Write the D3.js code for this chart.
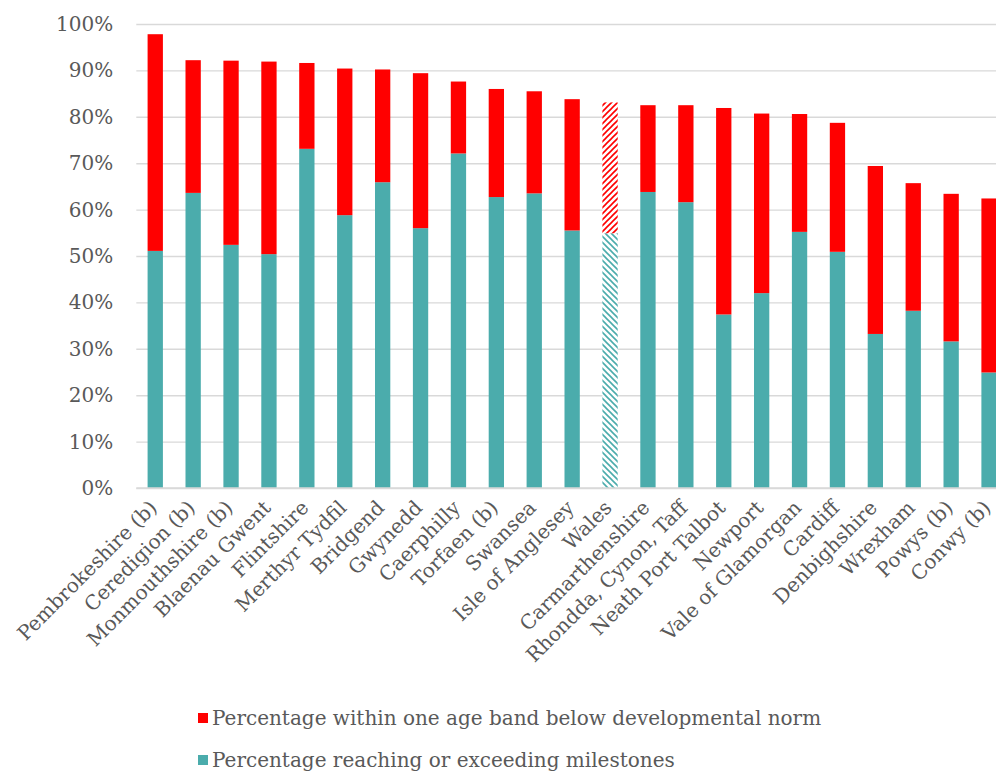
<!DOCTYPE html>
<html>
<head>
<meta charset="utf-8">
<script src="https://cdn.jsdelivr.net/npm/d3@7/dist/d3.min.js"></script>
<style>
  html, body { margin: 0; padding: 0; background: #fff; overflow: hidden; }
  svg { display: block; }
  text { font-family: "DejaVu Serif", "Liberation Serif", serif; fill: #595959; }
</style>
</head>
<body>
<svg id="chart" width="996" height="772"></svg>
<script>
// Local authorities, ordered by total share at or near the norm
const categories = [
  "Pembrokeshire (b)", "Ceredigion (b)", "Monmouthshire (b)", "Blaenau Gwent",
  "Flintshire", "Merthyr Tydfil", "Bridgend", "Gwynedd", "Caerphilly",
  "Torfaen (b)", "Swansea", "Isle of Anglesey", "Wales", "Carmarthenshire",
  "Rhondda, Cynon, Taff", "Neath Port Talbot", "Newport", "Vale of Glamorgan",
  "Cardiff", "Denbighshire", "Wrexham", "Powys (b)", "Conwy (b)"
];

// Percentage reaching or exceeding milestones
const reaching = [
  51.1, 63.6, 52.4, 50.4, 73.1, 58.8, 65.9, 56.0, 72.1, 62.7, 63.5, 55.5,
  54.9, 63.8, 61.6, 37.4, 42.0, 55.2, 50.9, 33.2, 38.2, 31.6, 24.9
];

// Percentage within one age band below developmental norm
const withinOneBand = [
  46.7, 28.6, 39.7, 41.5, 18.5, 31.6, 24.3, 33.4, 15.5, 23.3, 22.0, 28.3,
  28.2, 18.7, 20.9, 44.5, 38.7, 25.4, 27.8, 36.2, 27.5, 31.8, 37.5
];

const yTicks = [0, 10, 20, 30, 40, 50, 60, 70, 80, 90, 100];

const seriesNames = [
  "Percentage within one age band below developmental norm",
  "Percentage reaching or exceeding milestones"
];

const RED = "#ff0000";
const TEAL = "#4bacac";
const GRID = "#d9d9d9";

const svg = d3.select("#chart");

const plot = { left: 136.3, right: 1008, top: 24, bottom: 488 };

const x = d3.scaleBand()
  .domain(categories)
  .range([plot.left, plot.right])
  .paddingInner(0.596)
  .paddingOuter(0.298);

const y = d3.scaleLinear()
  .domain([0, 100])
  .range([plot.bottom, plot.top]);

// Hatch fills for the all-Wales bar
const defs = svg.append("defs");
function hatch(id, color, dir) {
  const p = defs.append("pattern")
    .attr("id", id)
    .attr("patternUnits", "userSpaceOnUse")
    .attr("width", 6).attr("height", 6);
  p.append("rect").attr("width", 6).attr("height", 6).attr("fill", "#fff");
  const d = dir > 0
    ? "M-1,1 l2,-2 M0,6 l6,-6 M5,7 l2,-2"
    : "M-1,5 l2,2 M0,0 l6,6 M5,-1 l2,2";
  p.append("path").attr("d", d)
    .attr("stroke", color).attr("stroke-width", 1.6);
}
hatch("hatchRed", RED, 1);
hatch("hatchTeal", TEAL, -1);

// Gridlines and y axis labels
const yAxis = d3.axisLeft(y)
  .tickValues(yTicks)
  .tickSize(-(plot.right - plot.left))
  .tickPadding(23)
  .tickFormat(d => d + "%");

const gy = svg.append("g")
  .attr("transform", `translate(${plot.left},0)`)
  .call(yAxis);
gy.select(".domain").remove();
gy.selectAll(".tick line").attr("stroke", GRID).attr("stroke-width", 1.4);
gy.selectAll(".tick text")
  .attr("font-size", 20)
  .attr("fill", "#595959")
  .style("font-family", '"DejaVu Serif", serif');

// Stacked bars
const rows = categories.map((c, i) => ({
  name: c, reaching: reaching[i], within: withinOneBand[i]
}));

const bars = svg.append("g");
rows.forEach(r => {
  const isWales = r.name === "Wales";
  bars.append("rect")
    .attr("x", x(r.name))
    .attr("width", x.bandwidth())
    .attr("y", y(r.reaching))
    .attr("height", y(0) - y(r.reaching))
    .attr("fill", isWales ? "url(#hatchTeal)" : TEAL);
  bars.append("rect")
    .attr("x", x(r.name))
    .attr("width", x.bandwidth())
    .attr("y", y(r.reaching + r.within))
    .attr("height", y(r.reaching) - y(r.reaching + r.within))
    .attr("fill", isWales ? "url(#hatchRed)" : RED);
});

// Baseline
svg.append("line")
  .attr("x1", plot.left).attr("x2", plot.right)
  .attr("y1", y(0)).attr("y2", y(0))
  .attr("stroke", GRID).attr("stroke-width", 1.6);

// Category labels, rotated
const xAxis = d3.axisBottom(x).tickSize(0).tickPadding(0);
const gx = svg.append("g")
  .attr("transform", `translate(0,${plot.bottom})`)
  .call(xAxis);
gx.select(".domain").remove();
gx.selectAll(".tick text")
  .attr("font-size", 20)
  .attr("fill", "#595959")
  .style("font-family", '"DejaVu Serif", serif')
  .attr("text-anchor", "end")
  .attr("dy", 0)
  .attr("transform", "translate(3,21) rotate(-45)");

// Legend
const legend = svg.append("g");
const legendColors = [RED, TEAL];
seriesNames.forEach((name, i) => {
  const yy = 725 + i * 42;
  legend.append("rect")
    .attr("x", 198).attr("y", yy - 12)
    .attr("width", 10).attr("height", 10)
    .attr("fill", legendColors[i]);
  legend.append("text")
    .attr("x", 212).attr("y", yy)
    .attr("font-size", 20)
    .text(name);
});
</script>
</body>
</html>
